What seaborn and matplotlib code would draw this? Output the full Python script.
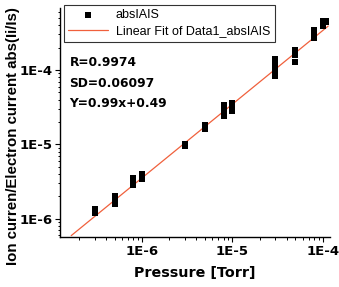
import numpy as np
import pandas as pd
import seaborn as sns
import matplotlib.pyplot as plt
from matplotlib.ticker import LogLocator, FixedLocator, FixedFormatter

pressure = [3e-7, 3e-7, 3e-7,
            5e-7, 5e-7, 5e-7, 5e-7,
            8e-7, 8e-7, 8e-7, 8e-7,
            1e-6, 1e-6, 1e-6,
            3e-6, 3e-6, 3e-6,
            5e-6, 5e-6, 5e-6,
            8e-6, 8e-6, 8e-6, 8e-6,
            1e-5, 1e-5, 1e-5,
            3e-5, 3e-5, 3e-5, 3e-5, 3e-5,
            5e-5, 5e-5, 5e-5,
            8e-5, 8e-5, 8e-5,
            1e-4, 1e-4, 1e-4, 1.1e-4, 1.1e-4]
ratio = [1.2e-6, 1.28e-6, 1.35e-6,
         1.6e-6, 1.7e-6, 1.9e-6, 2.05e-6,
         2.85e-6, 3.0e-6, 3.3e-6, 3.55e-6,
         3.4e-6, 3.7e-6, 4.0e-6,
         9.4e-6, 9.8e-6, 1.02e-5,
         1.6e-5, 1.7e-5, 1.8e-5,
         2.4e-5, 2.8e-5, 3.1e-5, 3.4e-5,
         2.8e-5, 3.2e-5, 3.6e-5,
         8.3e-5, 9.2e-5, 1.1e-4, 1.22e-4, 1.4e-4,
         1.3e-4, 1.6e-4, 1.85e-4,
         2.7e-4, 2.9e-4, 3.4e-4,
         3.9e-4, 4.3e-4, 4.6e-4, 4.4e-4, 4.6e-4]

# fit stated on the chart: log10(Y) = 0.99*log10(x) + 0.49
slope = 0.99
intercept = 0.49
fit_x = [1.65e-7, 1.15e-4]

df = pd.DataFrame({'P': pressure, 'R': ratio})
fit = pd.DataFrame({'P': fit_x})
fit['R'] = 10 ** (slope * np.log10(fit['P']) + intercept)

sns.set_style('ticks')
plt.rcParams['font.family'] = ['Liberation Sans', 'DejaVu Sans']
plt.rcParams['text.color'] = 'black'
plt.rcParams['axes.labelcolor'] = 'black'
plt.rcParams['xtick.color'] = 'black'
plt.rcParams['ytick.color'] = 'black'
plt.rcParams['axes.edgecolor'] = 'black'

fig = plt.figure(figsize=(3.39, 2.87), dpi=100)
ax = fig.add_axes([0.177, 0.174, 0.796, 0.798])

sns.scatterplot(data=df, x='P', y='R', ax=ax, marker='s', color='black',
                s=15, edgecolor='black', linewidth=0, label='absIAIS', zorder=3)
sns.lineplot(data=fit, x='P', y='R', ax=ax, color='#f0603c', linewidth=0.9,
             label='Linear Fit of Data1_absIAIS', zorder=2)

ax.set_xscale('log')
ax.set_yscale('log')
ax.set_xlim(1.24e-7, 1.2e-4)
ax.set_ylim(5.7e-7, 6.8e-4)

ax.xaxis.set_major_locator(FixedLocator([1e-6, 1e-5, 1e-4]))
ax.xaxis.set_major_formatter(FixedFormatter(['1E-6', '1E-5', '1E-4']))
ax.yaxis.set_major_locator(FixedLocator([1e-6, 1e-5, 1e-4]))
ax.yaxis.set_major_formatter(FixedFormatter(['1E-6', '1E-5', '1E-4']))
ax.xaxis.set_minor_locator(LogLocator(base=10, subs=np.arange(2, 10)))
ax.yaxis.set_minor_locator(LogLocator(base=10, subs=np.arange(2, 10)))
ax.tick_params(which='major', direction='out', length=3.5, width=0.8, pad=2)
ax.tick_params(which='minor', direction='out', length=1.8, width=0.7)
for lab in ax.get_xticklabels() + ax.get_yticklabels():
    lab.set_fontweight('bold')
    lab.set_fontfamily('DejaVu Sans')
    lab.set_fontsize(9.5)

sns.despine(ax=ax)
for s in ['left', 'bottom']:
    ax.spines[s].set_linewidth(1.0)

ax.set_xlabel('Pressure [Torr]', fontsize=10.3, fontweight='bold',
              family='DejaVu Sans', labelpad=6)
ax.set_ylabel('Ion curren/Electron current abs(Ii/Is)', fontsize=10.8,
              fontweight='bold')
ax.yaxis.set_label_coords(-0.15, 0.44)

ax.text(0.035, 0.79, 'R=0.9974\nSD=0.06097\nY=0.99x+0.49', transform=ax.transAxes,
        fontsize=8.8, fontweight='bold', family='DejaVu Sans', va='top',
        linespacing=1.75)

leg = ax.legend(loc='upper left', bbox_to_anchor=(0.015, 1.015), fontsize=9,
                frameon=True, fancybox=False, edgecolor='black',
                borderpad=0.35, handlelength=3.2, labelspacing=0.35,
                handletextpad=0.6, borderaxespad=0)
leg.get_frame().set_linewidth(0.8)
for t in leg.get_texts():
    t.set_color('black')

fig.savefig('out.png', dpi=100)
